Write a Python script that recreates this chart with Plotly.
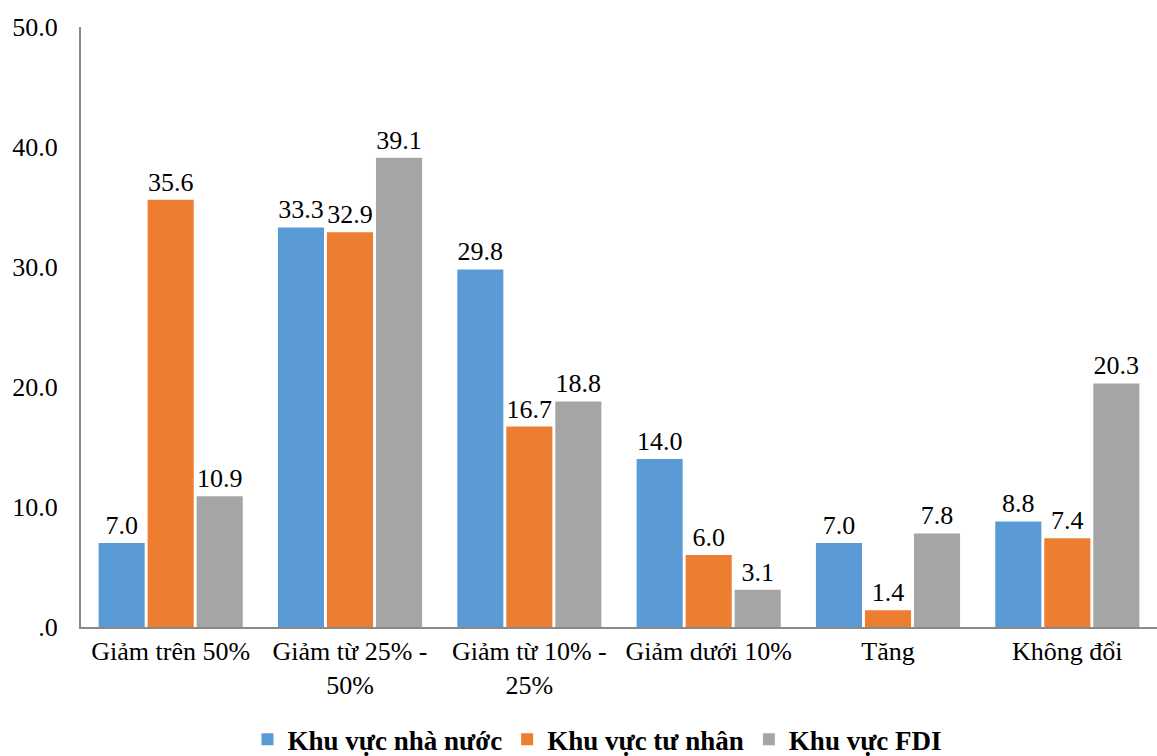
import plotly.graph_objects as go

categories = ["Giảm trên 50%", "Giảm từ 25% -<br>50%", "Giảm từ 10% -<br>25%",
              "Giảm dưới 10%", "Tăng", "Không đổi"]
state = [7.0, 33.3, 29.8, 14.0, 7.0, 8.8]
private = [35.6, 32.9, 16.7, 6.0, 1.4, 7.4]
fdi = [10.9, 39.1, 18.8, 3.1, 7.8, 20.3]
series_names = ["Khu vực nhà nước", "Khu vực tư nhân", "Khu vực FDI"]
colors = ["#5B9BD5", "#ED7D31", "#A5A5A5"]
tick_vals = [0, 10, 20, 30, 40, 50]
tick_text = [".0", "10.0", "20.0", "30.0", "40.0", "50.0"]

FONT = "Liberation Serif"

fig = go.Figure()
for name, vals, col in zip(series_names, [state, private, fdi], colors):
    fig.add_trace(go.Bar(
        x=categories, y=vals, name=name,
        marker=dict(color=col, line=dict(width=0)),
        text=[f"{v:.1f}" for v in vals],
        textposition="outside", cliponaxis=False,
        textfont=dict(family=FONT, size=26, color="#000000"),
    ))

fig.update_layout(
    width=1157, height=756,
    margin=dict(l=81, r=0, t=27, b=129, autoexpand=False),
    paper_bgcolor="white", plot_bgcolor="white",
    barmode="group", bargap=0.18, bargroupgap=0.06,
    font=dict(family=FONT, size=26, color="#000000"),
    uniformtext=dict(minsize=26, mode="show"),
    showlegend=True,
    legend=dict(orientation="h", x=0.48, xanchor="center", y=-0.188, yanchor="middle",
                font=dict(family=FONT, size=27, color="#000000", weight="bold"),
                traceorder="normal", itemwidth=30, tracegroupgap=0),
    xaxis=dict(showline=True, linecolor="#898989", linewidth=2, ticks="",
               tickfont=dict(family=FONT, size=26), showgrid=False),
    yaxis=dict(range=[0, 50], tickvals=tick_vals, ticktext=tick_text,
               showline=True, linecolor="#898989", linewidth=2, ticks="",
               showgrid=False, zeroline=False, ticklabelstandoff=16,
               tickfont=dict(family=FONT, size=26)),
)

fig.write_html("out.html")
